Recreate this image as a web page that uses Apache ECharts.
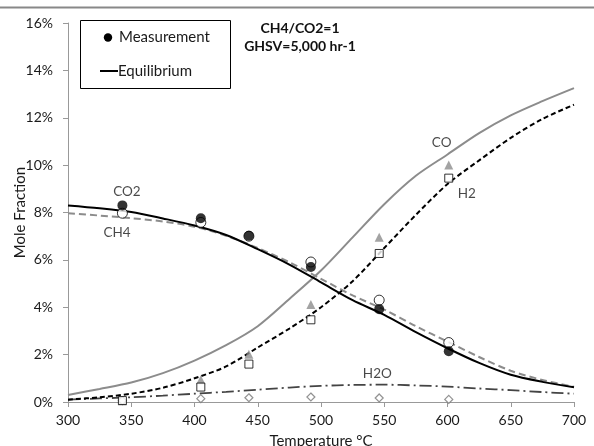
<!DOCTYPE html>
<html>
<head>
<meta charset="utf-8">
<script src="https://cdn.jsdelivr.net/npm/echarts@6/dist/echarts.min.js"></script>
<style>html,body{margin:0;padding:0;background:#fff}#c{width:594px;height:446px}</style>
</head>
<body>
<div id="c"></div>
<script>
// Measurement temperatures (°C)
var measTemps = [343, 405, 443, 492, 546, 601];
var measCO2 = [8.30, 7.76, 7.02, 5.70, 3.92, 2.14];
var measCH4 = [7.97, 7.58, 7.00, 5.91, 4.30, 2.51];
var measCO  = [0.05, 0.94, 2.02, 4.12, 6.96, 10.01];
var measH2  = [0.06, 0.63, 1.60, 3.47, 6.27, 9.45];
var measH2O = [0.06, 0.14, 0.18, 0.21, 0.17, 0.11];

// Equilibrium temperatures (°C)
var eqTemps = [300, 325, 350, 375, 400, 425, 450, 475, 500, 525, 550, 575, 600, 625, 650, 675, 700];
var eqCO2 = [8.30, 8.18, 8.02, 7.75, 7.45, 7.05, 6.45, 5.80, 5.05, 4.30, 3.68, 2.95, 2.27, 1.65, 1.15, 0.85, 0.62];
var eqCH4 = [7.97, 7.87, 7.76, 7.62, 7.40, 7.02, 6.50, 5.90, 5.20, 4.50, 3.90, 3.20, 2.55, 1.90, 1.32, 0.93, 0.64];
var eqCO  = [0.30, 0.55, 0.82, 1.22, 1.75, 2.40, 3.20, 4.35, 5.55, 6.95, 8.35, 9.55, 10.45, 11.35, 12.10, 12.70, 13.25];
var eqH2  = [0.10, 0.20, 0.35, 0.60, 1.00, 1.50, 2.30, 3.10, 4.00, 5.10, 6.50, 7.90, 9.20, 10.20, 11.15, 11.95, 12.55];
var eqH2O = [0.10, 0.15, 0.20, 0.27, 0.35, 0.43, 0.52, 0.61, 0.68, 0.72, 0.73, 0.70, 0.65, 0.57, 0.50, 0.42, 0.35];

// Curve labels: [temperature, mole fraction, text]
var curveLabels = [[346.6, 8.89, 'CO2'], [338.7, 7.16, 'CH4'], [595.4, 10.94, 'CO'], [615.2, 8.78, 'H2'], [544.5, 1.19, 'H2O']];

var xTicks = [300, 350, 400, 450, 500, 550, 600, 650, 700];
var yTicks = [0, 2, 4, 6, 8, 10, 12, 14, 16];

function pairs(xs, ys) { return xs.map(function (x, i) { return [x, ys[i]]; }); }

var FONT = 'Lato';
var GRAY = '#8c8c8c';
var TXT = '#1a1a1a';

var chart = echarts.init(document.getElementById('c'), null, {renderer: 'canvas'});

function lineSeries(ys, color, type, width) {
  return {
    type: 'line', data: pairs(eqTemps, ys), smooth: 0.3, symbol: 'none',
    lineStyle: {color: color, width: width, type: type}, z: 2, silent: true
  };
}
function scatterSeries(ys, symbol, size, fill, border, bw, z) {
  return {
    type: 'scatter', data: pairs(measTemps, ys), symbol: symbol, symbolSize: size,
    itemStyle: {color: fill, borderColor: border, borderWidth: bw}, z: z, silent: true
  };
}

var option = {
  animation: false,
  backgroundColor: '#fff',
  grid: {left: 68, right: 20, top: 23, bottom: 44, containLabel: false, outerBoundsMode: 'none'},
  xAxis: {
    type: 'value', min: 300, max: 700, interval: 50,
    name: 'Temperature °C', nameLocation: 'middle', nameGap: 32, nameMoveOverlap: false,
    nameTextStyle: {fontFamily: FONT, fontSize: 15, color: TXT},
    axisLine: {show: true, lineStyle: {color: '#999', width: 1}},
    axisTick: {show: true, length: 5, lineStyle: {color: '#999'}},
    axisLabel: {fontFamily: FONT, fontSize: 14, color: TXT, margin: 11,
      formatter: function (v) { return xTicks.indexOf(v) >= 0 ? String(v) : ''; }},
    splitLine: {show: false}
  },
  yAxis: {
    type: 'value', min: 0, max: 16, interval: 2,
    name: 'Mole Fraction', nameLocation: 'middle', nameGap: 40, nameMoveOverlap: false,
    nameTextStyle: {fontFamily: FONT, fontSize: 15, color: TXT},
    axisLine: {show: true, lineStyle: {color: '#999', width: 1}},
    axisTick: {show: true, length: 5, lineStyle: {color: '#999'}},
    axisLabel: {fontFamily: FONT, fontSize: 14, color: TXT, margin: 15,
      formatter: function (v) { return yTicks.indexOf(v) >= 0 ? v + '%' : ''; }},
    splitLine: {show: false}
  },
  series: [
    lineSeries(eqH2O, '#444', [12, 4, 2, 4], 1.8),
    lineSeries(eqCH4, GRAY, [7, 4], 2),
    lineSeries(eqCO, GRAY, 'solid', 2),
    lineSeries(eqCO2, '#000', 'solid', 2),
    lineSeries(eqH2, '#000', [5, 3], 2),
    scatterSeries(measCO, 'triangle', 9, GRAY, GRAY, 0, 4),
    scatterSeries(measH2O, 'diamond', 8, '#fff', '#777', 1.2, 5),
    scatterSeries(measH2, 'rect', 8, '#fff', '#000', 1, 5),
    scatterSeries(measCH4, 'circle', 10, '#fff', '#000', 1, 6),
    scatterSeries(measCO2, 'circle', 10, '#000', '#000', 0, 7),
    {
      type: 'scatter', symbol: 'circle', symbolSize: 1, silent: true, z: 8,
      itemStyle: {color: 'rgba(0,0,0,0)'},
      data: curveLabels.map(function (d) { return {value: [d[0], d[1]], name: d[2]}; }),
      label: {show: true, position: 'inside', formatter: '{b}', fontFamily: FONT, fontSize: 13.5, color: TXT}
    }
  ],
  graphic: [
    {type: 'line', shape: {x1: 0, y1: 7.5, x2: 594, y2: 7.5}, style: {stroke: '#888', lineWidth: 2}},
    {type: 'rect', shape: {x: 80.5, y: 20.5, width: 150, height: 68}, style: {fill: '#fff', stroke: '#000', lineWidth: 1}},
    {type: 'circle', shape: {cx: 108, cy: 37.5, r: 4.2}, style: {fill: '#000'}},
    {type: 'text', x: 119, y: 37.5, style: {text: 'Measurement', font: '15px ' + FONT, fill: TXT, textVerticalAlign: 'middle'}},
    {type: 'line', shape: {x1: 100, y1: 71, x2: 118, y2: 71}, style: {stroke: '#000', lineWidth: 2}},
    {type: 'text', x: 118, y: 71, style: {text: 'Equilibrium', font: '15px ' + FONT, fill: TXT, textVerticalAlign: 'middle'}},
    {type: 'text', x: 300, y: 28.5, style: {text: 'CH4/CO2=1', font: 'bold 14px ' + FONT, fill: '#111', textAlign: 'center', textVerticalAlign: 'middle'}},
    {type: 'text', x: 300, y: 46.5, style: {text: 'GHSV=5,000 hr-1', font: 'bold 14px ' + FONT, fill: '#111', textAlign: 'center', textVerticalAlign: 'middle'}}
  ]
};
chart.setOption(option);
</script>
</body>
</html>
